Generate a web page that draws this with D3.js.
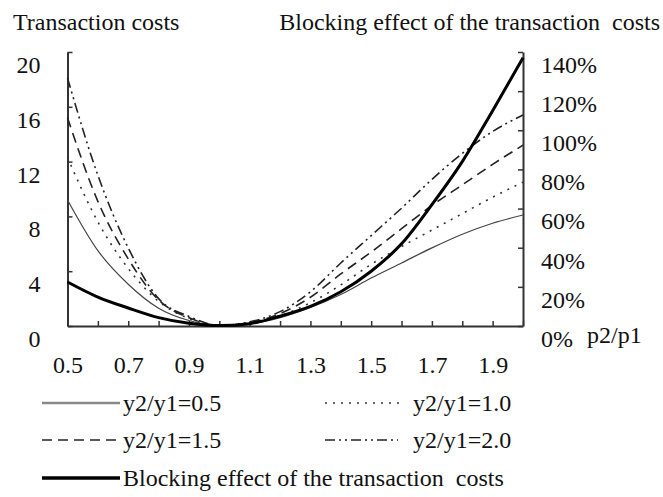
<!DOCTYPE html>
<html>
<head>
<meta charset="utf-8">
<script src="https://cdn.jsdelivr.net/npm/d3@7"></script>
<style>
  body { margin: 0; background: #fff; }
  svg text { font-family: "Liberation Serif", "DejaVu Serif", "Times New Roman", serif !important; fill: #111; }
</style>
</head>
<body>
<div id="chart"></div>
<script>
// p2/p1 on the x axis
const ratios = [0.5, 0.6, 0.7, 0.8, 0.9, 1.0, 1.1, 1.2, 1.3, 1.4, 1.5, 1.6, 1.7, 1.8, 1.9, 2.0];

// transaction costs for each y2/y1 (left axis)
const cost05 = [9.2, 5.5, 3.05, 1.3, 0.4, 0.05, 0.15, 0.6, 1.35, 2.3, 3.5, 4.6, 5.7, 6.7, 7.5, 8.1];
const cost10 = [12.3, 7.6, 4.2, 1.8, 0.55, 0.05, 0.2, 0.75, 1.7, 3.0, 4.5, 5.8, 7.0, 8.2, 9.4, 10.5];
const cost15 = [15.2, 9.1, 4.9, 1.9, 0.6, 0.05, 0.25, 0.9, 2.1, 3.8, 5.4, 7.1, 8.8, 10.3, 11.8, 13.2];
const cost20 = [18.1, 11.0, 5.7, 2.0, 0.7, 0.05, 0.3, 1.05, 2.5, 4.6, 6.6, 8.6, 10.7, 12.6, 14.2, 15.4];

// blocking effect of the transaction costs, % (right axis)
const blocking = [22.5, 14.8, 9.2, 4.3, 1.4, 0.2, 1.2, 5, 10, 17.5, 28, 42, 62, 84, 110, 137];

// tick labels
const costTicks = [0, 4, 8, 12, 16, 20];
const pctTicks = [0, 20, 40, 60, 80, 100, 120, 140];
const xLabels = ["0.5", "0.7", "0.9", "1.1", "1.3", "1.5", "1.7", "1.9"];

const width = 663, height = 497;
const plot = { left: 67.5, right: 523, top: 52, bottom: 326 };
const font = '"Liberation Serif", "DejaVu Serif", serif';

const svg = d3.select("#chart")
  .append("svg")
  .attr("width", width)
  .attr("height", height)
  .attr("font-family", font);

const x = d3.scaleLinear().domain([0.5, 2.0]).range([plot.left, plot.right]);
const yL = d3.scaleLinear().domain([0, 20]).range([plot.bottom, plot.top]);
const yR = d3.scaleLinear().domain([0, 140]).range([plot.bottom, plot.top]);

const series = [
  { label: "y2/y1=0.5", values: cost05, color: "#444", width: 1.2, dash: null, legColor: "#8a8a8a", legWidth: 2.5 },
  { label: "y2/y1=1.0", values: cost10, color: "#333", width: 1.6, dash: "2,6" },
  { label: "y2/y1=1.5", values: cost15, color: "#222", width: 1.6, dash: "10,6" },
  { label: "y2/y1=2.0", values: cost20, color: "#222", width: 1.6, dash: "10,4,2,4,2,4" }
];

// axes, ticks point inward
function styleAxis(g) {
  g.attr("font-family", font);
  g.select(".domain").attr("stroke", "#333").attr("stroke-width", 2);
  g.selectAll(".tick line").attr("stroke", "#333").attr("stroke-width", 1.5);
  g.selectAll("text").attr("font-size", 24).attr("fill", "#111");
}

svg.append("g")
  .attr("transform", `translate(0,${plot.bottom})`)
  .call(d3.axisBottom(x).tickValues(ratios).tickSizeInner(-5).tickSizeOuter(0)
    .tickPadding(30)
    .tickFormat(d => xLabels.includes(d.toFixed(1)) ? d.toFixed(1) : ""))
  .call(styleAxis);

svg.append("g")
  .attr("transform", `translate(${plot.left},0)`)
  .call(d3.axisLeft(yL).tickValues(costTicks).tickSizeInner(-5).tickSizeOuter(0).tickPadding(27))
  .call(styleAxis)
  .selectAll("text").attr("dy", "0.85em");

svg.append("g")
  .attr("transform", `translate(${plot.right},0)`)
  .call(d3.axisRight(yR).tickValues(pctTicks).tickSizeInner(-5).tickSizeOuter(0).tickPadding(18)
    .tickFormat(d => d + "%"))
  .call(styleAxis)
  .selectAll("text").attr("dy", "0.85em");

// axis titles
svg.append("text").attr("x", 13).attr("y", 30).attr("font-size", 24).text("Transaction costs");
svg.append("text").attr("x", 660).attr("y", 30).attr("font-size", 24).attr("text-anchor", "end")
  .attr("xml:space", "preserve").text("Blocking effect of the transaction  costs");
svg.append("text").attr("x", 587).attr("y", 343).attr("font-size", 24).text("p2/p1");

// lines
const costLine = vals => d3.line()
  .x((d, i) => x(ratios[i]))
  .y(d => yL(d))
  .curve(d3.curveMonotoneX)(vals);

series.forEach(s => {
  svg.append("path")
    .attr("d", costLine(s.values))
    .attr("fill", "none")
    .attr("stroke", s.color)
    .attr("stroke-width", s.width)
    .attr("stroke-dasharray", s.dash);
});

svg.append("path")
  .datum(blocking)
  .attr("fill", "none")
  .attr("stroke", "#000")
  .attr("stroke-width", 3)
  .attr("d", d3.line()
    .x((d, i) => x(ratios[i]))
    .y(d => yR(d))
    .curve(d3.curveMonotoneX));

// legend
const legend = [
  { s: series[0], x: 42, len: 78, tx: 123, y: 403 },
  { s: series[1], x: 325, len: 75, tx: 413, y: 403 },
  { s: series[2], x: 42, len: 78, tx: 123, y: 440 },
  { s: series[3], x: 325, len: 73, tx: 413, y: 440 },
  { s: { label: "Blocking effect of the transaction  costs", color: "#000", width: 3.5, dash: null }, x: 42, len: 78, tx: 123, y: 478 }
];

legend.forEach(l => {
  svg.append("line")
    .attr("x1", l.x).attr("x2", l.x + l.len)
    .attr("y1", l.y).attr("y2", l.y)
    .attr("stroke", l.s.legColor || l.s.color)
    .attr("stroke-width", l.s.legWidth || l.s.width)
    .attr("stroke-dasharray", l.s.dash);
  svg.append("text")
    .attr("x", l.tx).attr("y", l.y + 8)
    .attr("font-size", 24)
    .attr("xml:space", "preserve")
    .text(l.s.label);
});
</script>
</body>
</html>
